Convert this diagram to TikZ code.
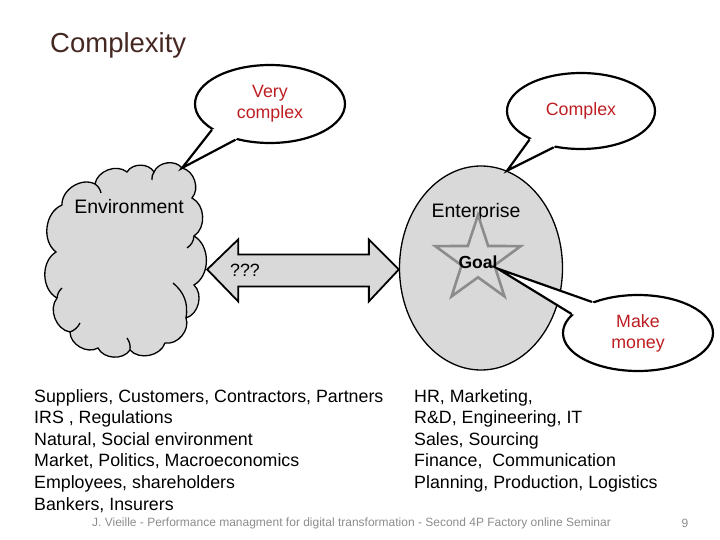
\documentclass[tikz,border=0pt]{standalone}
\usepackage{fontspec}
\setmainfont{Liberation Sans}
\usetikzlibrary{shapes.geometric, calc}

\definecolor{talkred}{RGB}{190,30,35}
\definecolor{titlebrown}{RGB}{70,40,35}
\definecolor{blobgray}{RGB}{217,217,217}
\definecolor{footgray}{RGB}{140,140,140}

% callout tail: bubble, two border angles, tip
\newcommand{\bubbletail}[4]{%
  \fill[white] (#1.#2) -- (#4) -- (#1.#3)
    -- ($(#1.#3)!0.2!(#1.center)$) -- ($(#1.#2)!0.2!(#1.center)$) -- cycle;
  \draw[line width=2.2pt, line join=miter] (#1.#2) -- (#4) -- (#1.#3);}

\begin{document}
\begin{tikzpicture}[
    x=1pt, y=-1pt,
    bubble/.style={ellipse, draw=black, fill=white, line width=2.2pt,
      inner sep=0pt, align=center, text=talkred,
      font=\fontsize{17.8}{21}\selectfont},
    blob/.style={draw=black, fill=blobgray, line width=1.3pt},
    puff/.style={bend left=60},
    label/.style={font=\fontsize{19.5}{22}\selectfont, inner sep=0pt},
    listtext/.style={align=left, anchor=north west, inner sep=0pt,
      font=\fontsize{17.8}{21.6}\selectfont},
]
\useasboundingbox (0,0) rectangle (720,540);

% ---- title ----
\node[anchor=base west, inner sep=0pt, text=titlebrown,
      font=\fontsize{27.5}{30}\selectfont] (title) at (50,53) {Complexity};

% ---- environment cloud ----
\node[minimum width=165pt, minimum height=201pt, inner sep=0pt]
  (env) at (124.5,262) {};
\coordinate (cloudtip) at (182,168);
\draw[blob]
  (56,252) to[puff] (62,205) to[puff] (95,184) to[puff] (127,172)
  to[puff] (154,172) to[puff] (cloudtip) to[puff] (192,198)
  to[puff] (194,236) to[puff] (194,285) to[puff] (186,318)
  to[puff] (165,343) to[puff] (130,350) to[puff] (98,348)
  to[puff] (70,332) to[puff] (57,298) to[puff] cycle;
% inner puff creases
\draw[line width=1.3pt]
  (95,184) to[bend left=20] (101,193)
  (154,172) to[bend right=20] (152,180)
  (194,236) to[bend left=25] (187,248)
  (186,318) to[bend right=30] (173,283)
  (130,350) to[bend right=20] (127,338)
  (70,332) to[bend right=20] (80,323)
  (57,298) to[bend left=20] (62,288);
\node[label, anchor=base] (envlbl) at (129,214) {Environment};

% ---- enterprise ----
\node[ellipse, blob, minimum width=163pt, minimum height=204pt,
      inner sep=0pt] (ent) at (481,268) {};
\node[label, anchor=base] (entlbl) at (476,218) {Enterprise};
\node[star, star points=5, star point ratio=2.6, draw=black!45,
      line width=2.6pt, minimum size=90pt, inner sep=0pt]
  (star) at (478,260) {};
\node[font=\fontsize{17.5}{20}\selectfont\bfseries, inner sep=0pt]
  (goal) at (478,262) {Goal};

% ---- ??? double arrow ----
\coordinate (ar) at (ent.181);
\coordinate (al) at (env.east |- ar);
\draw[blob, line width=1.8pt, line join=miter]
  (al) -- ++(31,-30) -- ++(0,15) -- ($(ar)+(-30,-15)$) -- ++(0,-15)
  -- (ar) -- ++(-30,32) -- ++(0,-15) -- ($(al)+(31,17)$) -- ++(0,15)
  -- cycle;
\node[anchor=west, font=\fontsize{17.8}{21}\selectfont, inner sep=0pt]
  (unk) at (230,270) {???};

% ---- speech bubbles ----
\node[bubble, minimum width=150pt, minimum height=78pt]
  (vc) at (270,104) {Very\\complex};
\bubbletail{vc}{204}{226}{cloudtip}

\node[bubble, minimum width=148pt, minimum height=76pt]
  (cx) at (581,111) {Complex};
\bubbletail{cx}{209}{233}{ent.75}

\node[bubble, minimum width=150pt, minimum height=76pt]
  (mm) at (638,333) {Make\\money};
\bubbletail{mm}{146}{164}{goal.south east}

% ---- lists ----
\node[listtext] (envlist) at (34,389)
  {Suppliers, Customers, Contractors, Partners\\
   IRS , Regulations\\
   Natural, Social environment\\
   Market, Politics, Macroeconomics\\
   Employees, shareholders\\
   Bankers, Insurers};
\node[listtext] (entlist) at (414,389)
  {HR, Marketing,\\
   R\&D, Engineering, IT\\
   Sales, Sourcing\\
   Finance,\ \ Communication\\
   Planning, Production, Logistics};

% ---- footer ----
\node[font=\fontsize{12}{14}\selectfont, text=footgray, inner sep=0pt]
  (foot) at (351.5,523)
  {J. Vieille - Performance managment for digital transformation - Second 4P Factory online Seminar};
\node[font=\fontsize{12}{14}\selectfont, text=footgray, inner sep=0pt]
  (page) at (685,523) {9};

\end{tikzpicture}
\end{document}
